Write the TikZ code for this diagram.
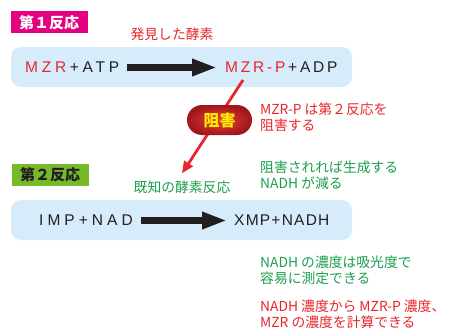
\documentclass[tikz,border=0pt]{standalone}
\usepackage{fontspec}
\setmainfont{Noto Sans CJK JP}
\newfontfamily\formulafont{Liberation Sans}
\usepackage{tikz}
\usetikzlibrary{arrows.meta,positioning}

\definecolor{paleblue}{RGB}{214,236,250}
\definecolor{jred}{RGB}{232,38,44}
\definecolor{jgreen}{RGB}{28,158,78}
\definecolor{stagemagenta}{RGB}{228,0,127}
\definecolor{stagegreen}{RGB}{118,186,44}
\definecolor{inkblack}{RGB}{35,31,32}
\definecolor{badgedark}{RGB}{160,22,26}
\definecolor{badgelight}{RGB}{230,66,56}
\definecolor{badgetext}{RGB}{255,236,0}

% letter spaced formula text: #1 = amount (percent of em), #2 = text
\newcommand{\spaced}[2]{{\addfontfeature{LetterSpace=#1}#2}}

\tikzset{
	panel/.style={fill=paleblue, rounded corners=10pt, minimum width=341pt, minimum height=40pt, inner sep=0pt},
	stagebox/.style={minimum width=77pt, minimum height=22pt, inner sep=0pt, font=\fontsize{15}{15}\selectfont\bfseries},
	formula/.style={anchor=west, inner sep=0pt, text=inkblack, font=\formulafont\fontsize{15.5}{16}\selectfont},
	enzyme/.style={inner sep=0pt, font=\fontsize{13.8}{14}\selectfont},
	note/.style={anchor=west, align=left, inner sep=0pt, font=\fontsize{13.8}{16}\selectfont},
	bigarrow/.style={draw=inkblack, line width=6.5pt, -{Triangle[length=25pt,width=16pt]}},
	inharrow/.style={draw=jred, line width=2.8pt, -{Triangle[length=12pt,width=10pt]}},
	badge/.style={rounded corners=15pt, minimum width=65pt, minimum height=30pt, inner sep=0pt,
		inner color=badgelight, outer color=badgedark, text=badgetext, font=\fontsize{16}{16}\selectfont\bfseries}
}

\begin{document}
\begin{tikzpicture}[x=1pt, y=-1pt]
	\fill[white] (0,0) rectangle (454,329);
	\useasboundingbox (0,0) rectangle (454,329);

	% first reaction
	\node [stagebox, fill=stagemagenta, text=white] (stage1) at (49,22.5) {第１反応};
	\node [enzyme, text=jred] (found) at (172,34) {発見した酵素};
	\node [panel] (row1) at (181.5,67) {};
	\node [formula] (substrate1) at (25,67.5) {\spaced{24}{\textcolor{jred}{MZR}}\kern0.24em\spaced{24}{+ATP}};
	\node [formula] (product1) at (225,67.5) {\spaced{18}{\textcolor{jred}{MZR-P}}\kern0.18em\spaced{18}{+ADP}};
	\draw [bigarrow, shorten <=8pt, shorten >=8pt] (substrate1) -- (product1);

	% second reaction
	\node [stagebox, fill=stagegreen, text=inkblack] (stage2) at (50,174.5) {第２反応};
	\node [enzyme, text=jgreen] (known) at (182,187) {既知の酵素反応};
	\node [panel] (row2) at (181.5,220) {};
	\node [formula] (substrate2) at (39,220.5) {\spaced{26}{IMP+NAD}};
	\node [formula] (product2) at (234,220.5) {\spaced{8}{XMP+NADH}};
	\draw [bigarrow, shorten <=8pt, shorten >=7pt] (substrate2) -- (product2);

	% inhibition arrow and badge
	\coordinate (inhstart) at (243,80);
	\coordinate (inhend) at ([yshift=7pt]known.north);
	\draw [inharrow] (inhstart) -- (inhend);
	\node [badge] (inhibit) at (219.5,120) {阻害};

	% notes on the right
	\node [note, text=jred] (note1) at (260,117.5) {MZR-P は第２反応を\\阻害する};
	\node [note, text=jgreen] (note2) at (260,175) {阻害されれば生成する\\NADH が減る};
	\node [note, text=jgreen] (note3) at (260,270) {NADH の濃度は吸光度で\\容易に測定できる};
	\node [note, text=jred] (note4) at (260,314.5) {NADH 濃度から MZR-P 濃度、\\MZR の濃度を計算できる};
\end{tikzpicture}
\end{document}
